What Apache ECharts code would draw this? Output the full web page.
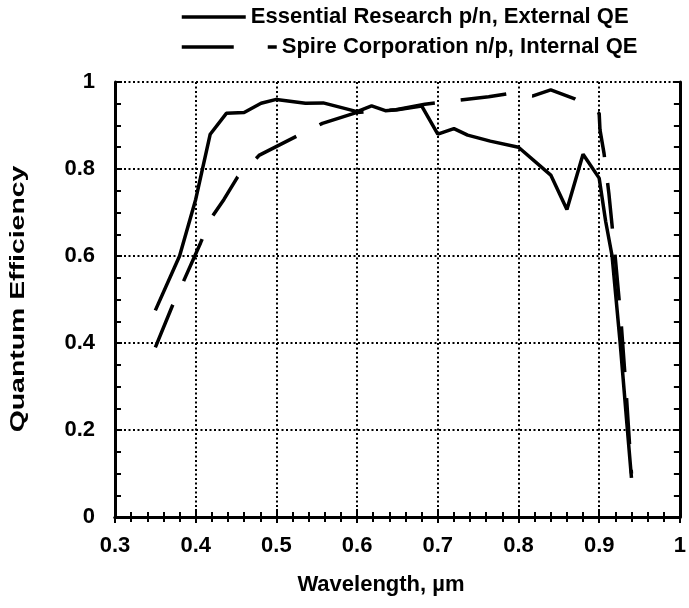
<!DOCTYPE html>
<html>
<head>
<meta charset="utf-8">
<script src="https://cdn.jsdelivr.net/npm/echarts@6/dist/echarts.min.js"></script>
<style>html,body{margin:0;padding:0;background:#fff;}#c{width:689px;height:608px;}</style>
</head>
<body>
<div id="c"></div>
<script>
// Essential Research p/n, External QE (solid)
const wlER = [0.35,0.38,0.40,0.418,0.438,0.46,0.481,0.50,0.536,0.558,0.60,0.618,0.635,0.65,0.68,0.70,0.72,0.737,0.765,0.80,0.84,0.86,0.88,0.90,0.908,0.916,0.926,0.935,0.94];
const qeER = [0.475,0.60,0.73,0.88,0.928,0.93,0.951,0.96,0.951,0.952,0.932,0.945,0.934,0.936,0.945,0.88,0.893,0.878,0.864,0.85,0.786,0.707,0.834,0.779,0.68,0.60,0.40,0.20,0.09];
// Spire Corporation n/p, Internal QE (dashed)
const wlSP = [0.35,0.371,0.384,0.406,0.418,0.435,0.452,0.479,0.53,0.557,0.60,0.648,0.684,0.712,0.763,0.79,0.818,0.84,0.869,0.891,0.90,0.901,0.906,0.912,0.92,0.927,0.933,0.94];
const qeSP = [0.39,0.485,0.538,0.63,0.684,0.73,0.782,0.832,0.88,0.905,0.93,0.936,0.949,0.955,0.966,0.974,0.968,0.982,0.962,0.936,0.928,0.89,0.836,0.744,0.595,0.453,0.30,0.10];

const nameER = 'Essential Research p/n, External QE';
const nameSP = 'Spire Corporation n/p, Internal QE';
const xName = 'Wavelength, \u00b5m';
const yName = 'Quantum Efficiency';

const font = 'Liberation Sans, Arial, Helvetica, sans-serif';
const zip = (a, b) => a.map((v, i) => [v, b[i]]);

const axisLine = { show: true, lineStyle: { color: '#000', width: 3 } };
const split = { show: true, lineStyle: { color: '#000', width: 2, type: [2, 2.5] } };
const legendText = { fontFamily: font, fontWeight: 'bold', fontSize: 22, color: '#000' };

const chart = echarts.init(document.getElementById('c'), null, { renderer: 'canvas' });
chart.setOption({
  backgroundColor: '#fff',
  animation: false,
  grid: { left: 115, right: 1, top: 82, bottom: 91, containLabel: false },
  legend: [
    { data: [nameER], left: 180, top: 6, padding: 0, itemWidth: 64, itemHeight: 20,
      textStyle: legendText, itemStyle: { opacity: 0 },
      lineStyle: { width: 3.5, type: 'solid' } },
    { data: [nameSP], left: 180, top: 36, padding: 0, itemWidth: 95, itemHeight: 20,
      textStyle: legendText, itemStyle: { opacity: 0 },
      lineStyle: { width: 3.5, type: [52, 34] } }
  ],
  xAxis: [
    { type: 'value', min: 0.3, max: 1.0, interval: 0.1, position: 'bottom',
      name: xName, nameLocation: 'middle', nameGap: 57,
      nameTextStyle: { fontFamily: font, fontWeight: 'bold', fontSize: 22, color: '#000', padding: [0, 33, 0, 0] },
      axisLine: axisLine,
      axisTick: { show: true, inside: true, length: 8, lineStyle: { color: '#000', width: 2 } },
      minorTick: { show: true, splitNumber: 5, length: 5, lineStyle: { color: '#000', width: 2 } },
      axisLabel: { margin: 18, fontFamily: font, fontWeight: 'bold', fontSize: 22, color: '#000',
        formatter: v => String(Math.round(v * 10) / 10) },
      splitLine: split },
    { type: 'value', min: 0.3, max: 1.0, interval: 0.1, position: 'top',
      axisLine: axisLine,
      axisTick: { show: true, inside: true, length: 6, lineStyle: { color: '#000', width: 2 } },
      minorTick: { show: true, splitNumber: 5, length: 5, lineStyle: { color: '#000', width: 2 } },
      axisLabel: { show: false }, splitLine: { show: false } }
  ],
  yAxis: [
    { type: 'value', min: 0, max: 1, interval: 0.2, position: 'left',
      axisLine: axisLine,
      axisTick: { show: true, inside: true, length: 7, lineStyle: { color: '#000', width: 2 } },
      minorTick: { show: true, splitNumber: 4, length: 6, lineStyle: { color: '#000', width: 2 } },
      axisLabel: { margin: 20, fontFamily: font, fontWeight: 'bold', fontSize: 22, color: '#000',
        formatter: v => String(Math.round(v * 10) / 10) },
      splitLine: split },
    { type: 'value', min: 0, max: 1, interval: 0.2, position: 'right',
      axisLine: axisLine,
      axisTick: { show: true, inside: true, length: 7, lineStyle: { color: '#000', width: 2 } },
      minorTick: { show: true, splitNumber: 4, length: 6, lineStyle: { color: '#000', width: 2 } },
      axisLabel: { show: false }, splitLine: { show: false } }
  ],
  graphic: [
    { type: 'text', x: 18, y: 299, rotation: Math.PI / 2, scaleX: 1.42, scaleY: 1,
      style: { text: yName, font: 'bold 20px ' + font, fill: '#000', align: 'center', verticalAlign: 'middle' } }
  ],
  series: [
    { name: nameER, type: 'line', xAxisIndex: 0, yAxisIndex: 0, data: zip(wlER, qeER),
      symbol: 'circle', symbolSize: 0, showSymbol: false, smooth: false,
      lineStyle: { color: '#000', width: 3.5, type: 'solid' }, itemStyle: { color: '#000' } },
    { name: nameSP, type: 'line', xAxisIndex: 0, yAxisIndex: 0, data: zip(wlSP, qeSP),
      symbol: 'circle', symbolSize: 0, showSymbol: false, smooth: false,
      lineStyle: { color: '#000', width: 3.5, type: [46, 26] }, itemStyle: { color: '#000' } }
  ]
});
</script>
</body>
</html>
